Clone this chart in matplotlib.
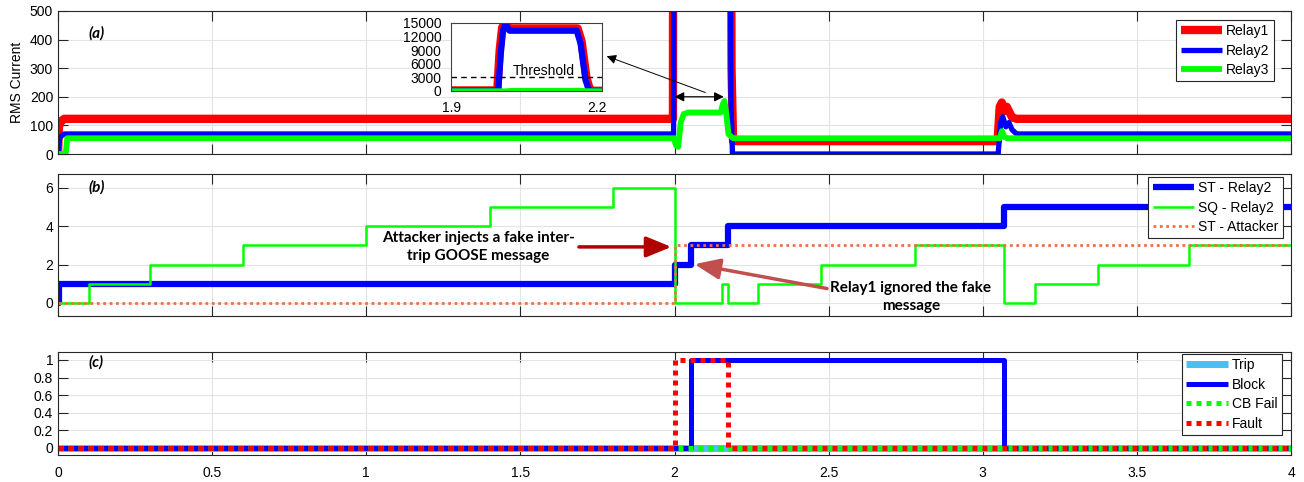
import matplotlib.pyplot as plt
import numpy as np

plt.rcParams['font.family'] = ['Liberation Sans', 'DejaVu Sans']
plt.rcParams['font.size'] = 10
plt.rcParams['lines.solid_capstyle'] = 'butt'

# (a) RMS current of the three relays
t_r1 = [0, 0.003, 0.01, 0.02, 1.995, 2.0, 2.005, 2.012, 2.02, 2.16, 2.168, 2.178, 2.185, 2.19,
        3.048, 3.055, 3.062, 3.07, 3.078, 3.085, 3.095, 3.11, 4.0]
i_r1 = [0, 95, 115, 123, 123, 9000, 14000, 15000, 13800, 13800, 11000, 3000, 300, 45,
        45, 165, 180, 150, 165, 150, 128, 123, 123]
t_r2 = [0, 0.005, 0.01, 0.02, 1.997, 2.002, 2.007, 2.012, 2.02, 2.158, 2.166, 2.176, 2.183, 2.188,
        3.05, 3.058, 3.065, 3.075, 3.085, 3.095, 3.11, 4.0]
i_r2 = [0, 55, 62, 70, 70, 8000, 13500, 14800, 13300, 13300, 10500, 2500, 200, 0,
        0, 110, 130, 95, 110, 85, 70, 70]
t_r3 = [0, 0.025, 0.03, 1.998, 2.005, 2.012, 2.02, 2.03, 2.045, 2.15, 2.157, 2.162, 2.168, 2.175, 2.19,
        3.055, 3.062, 3.07, 3.08, 4.0]
i_r3 = [0, 0, 55, 55, 30, 25, 110, 140, 145, 145, 175, 185, 140, 70, 55,
        55, 80, 60, 55, 55]
threshold = 3000

# (b) GOOSE state / sequence numbers
st_t = [0, 0.002, 2.0, 2.055, 2.175, 3.07, 4.0]
st_v = [0, 1, 2, 3, 4, 5, 5]
sq_t = [0, 0.1, 0.3, 0.6, 1.0, 1.4, 1.8, 2.0, 2.155, 2.175, 2.27, 2.475, 2.78, 3.07, 3.17, 3.375, 3.67, 4.0]
sq_v = [0, 1, 2, 3, 4, 5, 6, 0, 1, 0, 1, 2, 3, 0, 1, 2, 3, 3]
att_t = [0, 2.0, 4.0]
att_v = [0, 3, 3]

# (c) logic signals
trip_t, trip_v = [0, 4.0], [0, 0]
block_t, block_v = [0, 2.055, 3.068, 4.0], [0, 1, 0, 0]
cbf_t, cbf_v = [0, 4.0], [0, 0]
fault_t, fault_v = [0, 2.0, 2.175, 4.0], [0, 1, 0, 0]

W, H = 1304, 482
fig = plt.figure(figsize=(W / 100, H / 100), dpi=100)


def box(l, t, r, b):
    return [l / W, 1 - b / H, (r - l) / W, (b - t) / H]


def style(ax):
    ax.set_xlim(0, 4)
    ax.set_xticks(np.arange(0, 4.01, 0.5))
    ax.grid(True, color='#e3e3e3', lw=0.8)
    ax.set_axisbelow(True)
    ax.tick_params(direction='in', top=True, right=True, length=7, width=0.8,
                   color='#262626', labelsize=10)
    for s in ax.spines.values():
        s.set_color('#262626')
        s.set_linewidth(0.8)


lab_font = dict(fontsize=11, fontweight='bold', fontstyle='italic', family=['Lato', 'DejaVu Sans'])
leg_kw = dict(fontsize=10, fancybox=False, edgecolor='#262626', framealpha=1,
              borderaxespad=0, handlelength=3.0, handletextpad=0.3, labelspacing=0.4,
              borderpad=0.3)

# ---- (a)
ax1 = fig.add_axes(box(58, 11, 1291, 154))
style(ax1)
ax1.plot(t_r1, i_r1, color='red', lw=6, label='Relay1')
ax1.plot(t_r2, i_r2, color='blue', lw=3.8, label='Relay2')
ax1.plot(t_r3, i_r3, color='#00ff00', lw=4.2, label='Relay3')
ax1.set_ylim(0, 500)
ax1.set_yticks(range(0, 501, 100))
ax1.set_xticklabels([])
ax1.set_ylabel('RMS Current', fontsize=10, labelpad=4)
ax1.text(0.1, 420, '(a)', va='center', **lab_font)
leg = ax1.legend(loc='upper right', bbox_to_anchor=((1274 - 58) / 1233, (154 - 20) / 143), **leg_kw)
leg.get_frame().set_linewidth(0.8)
ax1.annotate('', xy=(2.0, 200), xytext=(2.16, 200),
             arrowprops=dict(arrowstyle='<|-|>', color='black', lw=0.9, mutation_scale=14,
                             shrinkA=0, shrinkB=0))
ax1.annotate('', xy=(1.78, 342), xytext=(2.10, 215),
             arrowprops=dict(arrowstyle='-|>', color='black', lw=0.7, mutation_scale=14,
                             shrinkA=0, shrinkB=0))

# inset zoom of the fault current
axi = fig.add_axes(box(451, 23, 602, 91))
axi.plot(t_r1, i_r1, color='red', lw=6)
axi.plot(t_r2, i_r2, color='blue', lw=4.5)
axi.plot(t_r3, i_r3, color='#00ff00', lw=3.5)
axi.axhline(threshold, color='black', ls='--', lw=1, dashes=(4, 3))
axi.text(2.09, 4500, 'Threshold', ha='center', va='center', fontsize=10)
axi.set_xlim(1.9, 2.21)
axi.set_ylim(0, 15000)
axi.set_yticks(range(0, 15001, 3000))
axi.set_xticks([1.9, 2.2])
axi.tick_params(length=0, labelsize=10)
axi.tick_params(axis='y', pad=7)
axi.tick_params(axis='x', pad=7)
for s in axi.spines.values():
    s.set_color('#404040')
    s.set_linewidth(0.8)

# ---- (b)
ax2 = fig.add_axes(box(58, 174, 1291, 316))
style(ax2)
ax2.plot(st_t, st_v, color='blue', lw=4.5, drawstyle='steps-post', label='ST - Relay2')
ax2.plot(sq_t, sq_v, color='#00ff00', lw=1.8, drawstyle='steps-post', label='SQ - Relay2')
ax2.plot(att_t, att_v, color='#f07040', lw=2, ls=(0, (1, 1.3)), drawstyle='steps-post',
         label='ST - Attacker')
ax2.set_ylim(-0.68, 6.72)
ax2.set_yticks([0, 2, 4, 6])
ax2.set_xticklabels([])
ax2.text(0.1, 6.0, '(b)', va='center', **lab_font)
leg = ax2.legend(loc='upper right', bbox_to_anchor=((1283 - 58) / 1233, (316 - 177) / 142), **leg_kw)
leg.get_frame().set_linewidth(0.8)

note_font = dict(fontsize=11, fontweight='bold', family=['Lato', 'DejaVu Sans'],
                 ha='center', va='center', linespacing=1.3)
ax2.text(1.363, 2.92, 'Attacker injects a fake inter-\ntrip GOOSE message', **note_font)
ax2.annotate('', xy=(1.99, 2.92), xytext=(1.69, 2.92),
             arrowprops=dict(arrowstyle='-|>,head_length=1.1,head_width=0.45', color='#b00000',
                             lw=2.5, mutation_scale=14, shrinkA=0, shrinkB=0))
ax2.text(2.767, 0.31, 'Relay1 ignored the fake\nmessage', **note_font)
ax2.annotate('', xy=(2.065, 2.02), xytext=(2.495, 0.75),
             arrowprops=dict(arrowstyle='-|>,head_length=1.1,head_width=0.45', color='#c0504d',
                             lw=2.5, mutation_scale=14, shrinkA=0, shrinkB=0))

# ---- (c)
ax3 = fig.add_axes(box(58, 352, 1291, 455))
style(ax3)
ax3.plot(trip_t, trip_v, color='#4dbeee', lw=5, drawstyle='steps-post', label='Trip')
ax3.plot(block_t, block_v, color='blue', lw=3.6, drawstyle='steps-post', label='Block')
ax3.plot(cbf_t, cbf_v, color='#00ff00', lw=3.6, ls=(0, (1, 1)), drawstyle='steps-post',
         label='CB Fail')
ax3.plot(fault_t, fault_v, color='red', lw=3.6, ls=(0, (1, 1)), drawstyle='steps-post',
         label='Fault')
ax3.set_ylim(-0.08, 1.09)
ax3.set_yticks([0, 0.2, 0.4, 0.6, 0.8, 1])
ax3.set_yticklabels(['0', '0.2', '0.4', '0.6', '0.8', '1'])
ax3.set_xticklabels(['0', '0.5', '1', '1.5', '2', '2.5', '3', '3.5', '4'])
ax3.tick_params(axis='x', pad=8)
ax3.text(0.1, 0.97, '(c)', va='center', **lab_font)
leg = ax3.legend(loc='upper right', bbox_to_anchor=((1282 - 58) / 1233, (455 - 354) / 103), **leg_kw)
leg.get_frame().set_linewidth(0.8)

fig.savefig('out.png', dpi=100)
